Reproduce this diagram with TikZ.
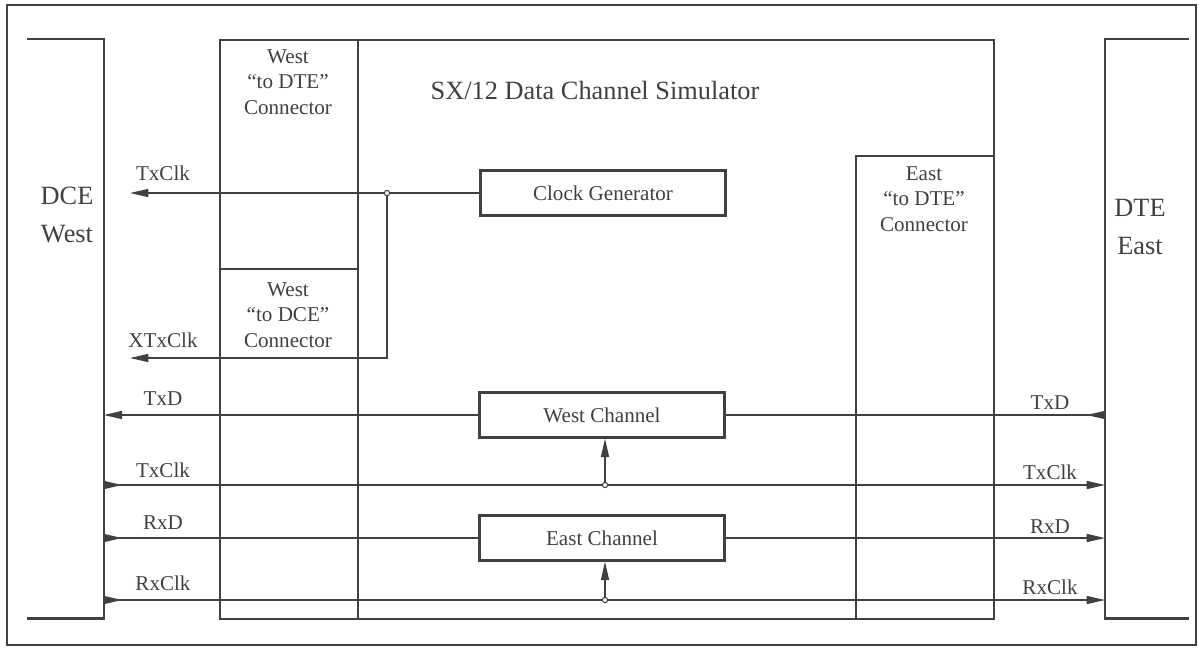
\documentclass[tikz,border=0pt]{standalone}
\usepackage{fontspec}
\setmainfont{Liberation Serif}
\usetikzlibrary{arrows.meta,positioning}
\definecolor{ink}{gray}{0.25}

\begin{document}
\begin{tikzpicture}[
            x=0.02cm, y=-0.02cm,
            >={Triangle[length=10.5pt,width=4.6pt]},
            rev/.tip={Triangle[length=10.5pt,width=4.6pt,reversed]},
            box/.style={draw=ink, line width=1.3pt, rectangle,
                            inner sep=0pt, anchor=north west},
            block/.style={draw=ink, text=ink, line width=1.3pt, rectangle,
                            minimum width=4.9cm, minimum height=0.9cm,
                            font=\fontsize{12}{14}\selectfont},
            sig/.style={draw=ink, line width=0.7pt},
            lbl/.style={text=ink, inner sep=1pt, font=\fontsize{12}{14}\selectfont},
            big/.style={text=ink, align=center, font=\fontsize{15}{22}\selectfont},
            conn/.style={text=ink, align=center, font=\fontsize{12}{14.5}\selectfont},
            dot/.style={circle, draw=ink, fill=white, line width=0.6pt,
                            inner sep=0pt, minimum size=3pt}
        ]
            \useasboundingbox (0,0) rectangle (1199,647);
            \draw[ink, line width=0.8pt] (7,5) rectangle (1196,645);

            % simulator and its connectors
            \node[box, minimum width=15.48cm, minimum height=11.58cm] (sim) at (219,39) {};
            \node[box, minimum width=2.76cm, minimum height=4.58cm] (wdte) at (219,39) {};
            \node[box, minimum width=2.76cm, minimum height=7cm] (wdce) at (219,268) {};
            \node[box, minimum width=2.76cm, minimum height=9.26cm] (edte) at (855,155) {};
            \node[big] (title) at (595,90) {SX/12 Data Channel Simulator};
            \node[conn] (wdtetxt) at (288,82) {West\\``to DTE''\\Connector};
            \node[conn] (wdcetxt) at (288,315) {West\\``to DCE''\\Connector};
            \node[conn] (edtetxt) at (924,199) {East\\``to DTE''\\Connector};

            % end equipment
            \node[anchor=north west, inner sep=0pt,
                    minimum width=1.52cm, minimum height=11.58cm] (dce) at (27,39) {};
            \draw[ink, line width=1.3pt] (dce.north west) -- (dce.north east)
                -- (dce.south east) -- (dce.south west);
            \node[big] (dcetxt) at (67,215) {DCE\\West};
            \node[anchor=north west, inner sep=0pt,
                    minimum width=1.66cm, minimum height=11.58cm] (dte) at (1105,39) {};
            \draw[ink, line width=1.3pt] (dte.north east) -- (dte.north west)
                -- (dte.south west) -- (dte.south east);
            \node[big] (dtetxt) at (1140,227) {DTE\\East};

            % blocks
            \node[block] (clk) at (603,193) {Clock Generator};
            \node[block] (wch) at (602,415) {West Channel};
            \node[block] (ech) at (602,538) {East Channel};

            \coordinate (clktip) at (130,193);
            \coordinate (xclktip) at (130,358);
            \coordinate (ja) at (387,193);
            \coordinate (jb) at (605,485);
            \coordinate (jc) at (605,600);

            % signals
            \draw[sig,->] (clk.west) -- (clktip);
            \draw[sig,->] (ja) |- (xclktip);
            \draw[sig,->] (wch.west) -- (wch.west -| dce.east);
            \draw[sig,rev-] (wch.east -| dte.west) -- (wch.east);
            \draw[sig,rev->] (dce.east |- jb) -- (dte.west |- jb);
            \draw[sig,->] (jb) -- (jb |- wch.south);
            \draw[sig,rev-] (dce.east |- ech.west) -- (ech.west);
            \draw[sig,->] (ech.east) -- (ech.east -| dte.west);
            \draw[sig,rev->] (dce.east |- jc) -- (dte.west |- jc);
            \draw[sig,->] (jc) -- (jc |- ech.south);

            \node[dot] (jadot) at (ja) {};
            \node[dot] (jbdot) at (jb) {};
            \node[dot] (jcdot) at (jc) {};

            % labels
            \node[lbl] (ltxclka) at (163,173) {TxClk};
            \node[lbl] (lxtxclk) at (163,340) {XTxClk};
            \node[lbl] (ltxd) at (163,399) {TxD};
            \node[lbl] (ltxclkb) at (163,470) {TxClk};
            \node[lbl] (lrxd) at (163,523) {RxD};
            \node[lbl] (lrxclk) at (163,583) {RxClk};
            \node[lbl] (rtxd) at (1050,403) {TxD};
            \node[lbl] (rtxclk) at (1050,472) {TxClk};
            \node[lbl] (rrxd) at (1050,527) {RxD};
            \node[lbl] (rrxclk) at (1050,587) {RxClk};

        \end{tikzpicture}
\end{document}
